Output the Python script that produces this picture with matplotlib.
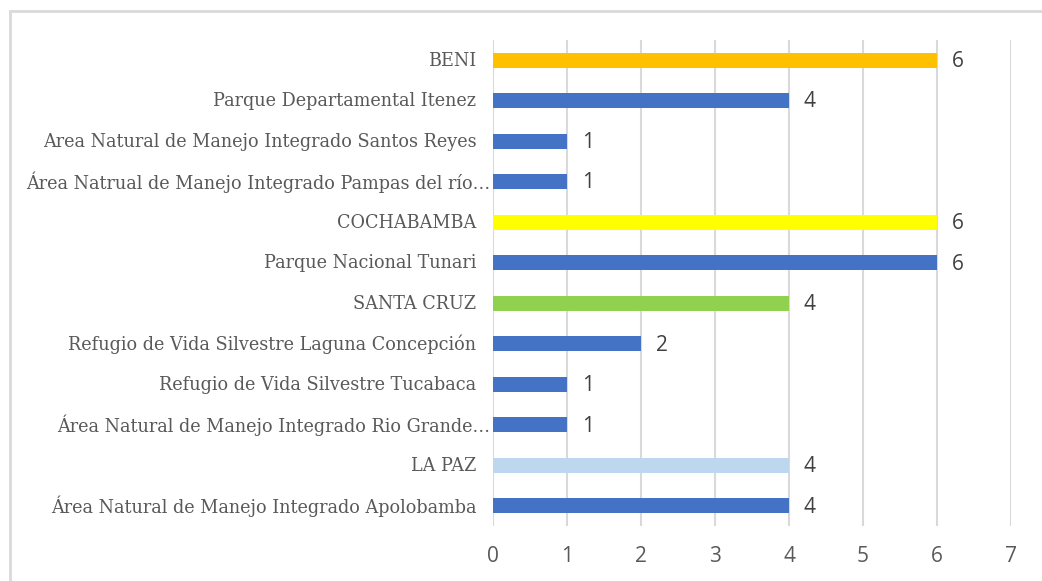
import matplotlib.pyplot as plt
from matplotlib.patches import Rectangle

# Datos (de arriba hacia abajo)
categorias = [
    "BENI",
    "Parque Departamental Itenez",
    "Area Natural de Manejo Integrado Santos Reyes",
    "Área Natrual de Manejo Integrado Pampas del río…",
    "COCHABAMBA",
    "Parque Nacional Tunari",
    "SANTA CRUZ",
    "Refugio de Vida Silvestre Laguna Concepción",
    "Refugio de Vida Silvestre Tucabaca",
    "Área Natural de Manejo Integrado Rio Grande…",
    "LA PAZ",
    "Área Natural de Manejo Integrado Apolobamba",
]
valores = [6, 4, 1, 1, 6, 6, 4, 2, 1, 1, 4, 4]
colores = ["#FFC000", "#4472C4", "#4472C4", "#4472C4", "#FFFF00", "#4472C4",
           "#92D050", "#4472C4", "#4472C4", "#4472C4", "#BDD7EE", "#4472C4"]
ticks_x = [0, 1, 2, 3, 4, 5, 6, 7]

W, H = 1042, 581
fig = plt.figure(figsize=(W / 100, H / 100), dpi=100)
fig.patch.set_facecolor("white")

# Marco del gráfico (recortado a la derecha y abajo)
fig.patches.append(Rectangle((9.5 / W, -0.1), 1.2, 1 - 10.5 / H + 0.1,
                             transform=fig.transFigure, fill=False,
                             edgecolor="#D9D9D9", linewidth=2))

ax = fig.add_axes([493 / W, 1 - 526 / H, (1011 - 493) / W, (526 - 39.75) / H])

pos = list(range(len(categorias)))
ax.barh(pos, valores, height=0.37, color=colores, zorder=3)
ax.set_ylim(len(categorias) - 0.5, -0.5)
ax.set_xlim(0, 7)
ax.set_xticks(ticks_x)

ax.grid(axis="x", color="#D9D9D9", linewidth=1.5, zorder=0)
for s in ax.spines.values():
    s.set_visible(False)
ax.tick_params(axis="both", length=0)
ax.tick_params(axis="x", pad=14.5, labelsize=15, labelcolor="#595959")
ax.set_xticklabels([str(t) for t in ticks_x], family="Open Sans")
ax.set_yticks(pos)
ax.set_yticklabels([])

# Etiquetas de categoría (las truncadas llegan hasta la barra)
for p, c in zip(pos, categorias):
    dx = -2 if c.endswith("…") else -12
    ax.annotate(c, (0, p), xycoords=("axes fraction", "data"),
                xytext=(dx, -0.5), textcoords="offset points",
                ha="right", va="center", family="DejaVu Serif",
                fontsize=12.7, color="#595959")

for p, v in zip(pos, valores):
    ax.annotate(str(v), (v, p), xytext=(10.5, -1), textcoords="offset points",
                va="center", ha="left", fontsize=15, color="#404040",
                family="Open Sans", zorder=4)

fig.savefig("out.png", dpi=100)
